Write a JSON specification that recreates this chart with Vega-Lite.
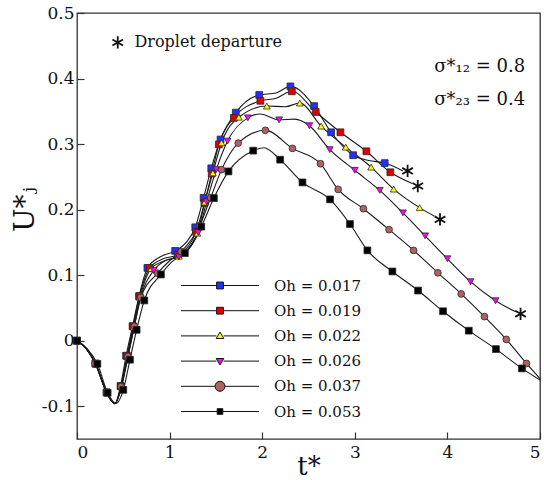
{
  "$schema": "https://vega.github.io/schema/vega-lite/v6.json",
  "width": 463,
  "height": 426,
  "autosize": {"type": "none"},
  "padding": {"left": 77, "top": 13, "right": 4, "bottom": 41},
  "background": "white",
  "config": {
    "font": "DejaVu Serif",
    "view": {"stroke": "#333", "strokeWidth": 1.3},
    "axis": {
      "labelFont": "DejaVu Serif",
      "titleFont": "DejaVu Serif",
      "labelColor": "#111",
      "titleColor": "#111",
      "titleFontWeight": "normal",
      "grid": false,
      "domain": false,
      "tickColor": "#333",
      "tickWidth": 1.2
    }
  },
  "datasets": {
    "curves": [
      {"s": "Oh = 0.017", "t": 0, "u": 0, "m": 1},
      {"s": "Oh = 0.017", "t": 0.1, "u": -0.012, "m": 0},
      {"s": "Oh = 0.017", "t": 0.2, "u": -0.035, "m": 1},
      {"s": "Oh = 0.017", "t": 0.32, "u": -0.079, "m": 1},
      {"s": "Oh = 0.017", "t": 0.41, "u": -0.096, "m": 0},
      {"s": "Oh = 0.017", "t": 0.47, "u": -0.069, "m": 1},
      {"s": "Oh = 0.017", "t": 0.53, "u": -0.023, "m": 1},
      {"s": "Oh = 0.017", "t": 0.6, "u": 0.022, "m": 1},
      {"s": "Oh = 0.017", "t": 0.67, "u": 0.068, "m": 1},
      {"s": "Oh = 0.017", "t": 0.76, "u": 0.111, "m": 1},
      {"s": "Oh = 0.017", "t": 0.9, "u": 0.128, "m": 0},
      {"s": "Oh = 0.017", "t": 1.06, "u": 0.137, "m": 1},
      {"s": "Oh = 0.017", "t": 1.18, "u": 0.15, "m": 0},
      {"s": "Oh = 0.017", "t": 1.277, "u": 0.173, "m": 1},
      {"s": "Oh = 0.017", "t": 1.367, "u": 0.218, "m": 1},
      {"s": "Oh = 0.017", "t": 1.45, "u": 0.263, "m": 1},
      {"s": "Oh = 0.017", "t": 1.55, "u": 0.307, "m": 1},
      {"s": "Oh = 0.017", "t": 1.715, "u": 0.348, "m": 1},
      {"s": "Oh = 0.017", "t": 1.968, "u": 0.375, "m": 1},
      {"s": "Oh = 0.017", "t": 2.15, "u": 0.378, "m": 0},
      {"s": "Oh = 0.017", "t": 2.305, "u": 0.388, "m": 1},
      {"s": "Oh = 0.017", "t": 2.561, "u": 0.358, "m": 1},
      {"s": "Oh = 0.017", "t": 2.744, "u": 0.318, "m": 1},
      {"s": "Oh = 0.017", "t": 2.982, "u": 0.283, "m": 1},
      {"s": "Oh = 0.017", "t": 3.15, "u": 0.275, "m": 0},
      {"s": "Oh = 0.017", "t": 3.323, "u": 0.271, "m": 1},
      {"s": "Oh = 0.017", "t": 3.52, "u": 0.259, "m": 0},

      {"s": "Oh = 0.019", "t": 0, "u": 0, "m": 1},
      {"s": "Oh = 0.019", "t": 0.1, "u": -0.012, "m": 0},
      {"s": "Oh = 0.019", "t": 0.2, "u": -0.035, "m": 1},
      {"s": "Oh = 0.019", "t": 0.32, "u": -0.079, "m": 1},
      {"s": "Oh = 0.019", "t": 0.41, "u": -0.096, "m": 0},
      {"s": "Oh = 0.019", "t": 0.475, "u": -0.07, "m": 1},
      {"s": "Oh = 0.019", "t": 0.54, "u": -0.023, "m": 1},
      {"s": "Oh = 0.019", "t": 0.605, "u": 0.022, "m": 1},
      {"s": "Oh = 0.019", "t": 0.675, "u": 0.068, "m": 1},
      {"s": "Oh = 0.019", "t": 0.785, "u": 0.111, "m": 1},
      {"s": "Oh = 0.019", "t": 0.93, "u": 0.125, "m": 0},
      {"s": "Oh = 0.019", "t": 1.09, "u": 0.131, "m": 1},
      {"s": "Oh = 0.019", "t": 1.286, "u": 0.166, "m": 1},
      {"s": "Oh = 0.019", "t": 1.376, "u": 0.21, "m": 1},
      {"s": "Oh = 0.019", "t": 1.455, "u": 0.255, "m": 1},
      {"s": "Oh = 0.019", "t": 1.532, "u": 0.2995, "m": 1},
      {"s": "Oh = 0.019", "t": 1.694, "u": 0.34, "m": 1},
      {"s": "Oh = 0.019", "t": 1.98, "u": 0.366, "m": 1},
      {"s": "Oh = 0.019", "t": 2.15, "u": 0.37, "m": 0},
      {"s": "Oh = 0.019", "t": 2.32, "u": 0.3805, "m": 1},
      {"s": "Oh = 0.019", "t": 2.578, "u": 0.349, "m": 1},
      {"s": "Oh = 0.019", "t": 2.845, "u": 0.318, "m": 1},
      {"s": "Oh = 0.019", "t": 3.125, "u": 0.289, "m": 1},
      {"s": "Oh = 0.019", "t": 3.384, "u": 0.257, "m": 1},
      {"s": "Oh = 0.019", "t": 3.62, "u": 0.24, "m": 0},

      {"s": "Oh = 0.022", "t": 0, "u": 0, "m": 1},
      {"s": "Oh = 0.022", "t": 0.1, "u": -0.012, "m": 0},
      {"s": "Oh = 0.022", "t": 0.2, "u": -0.035, "m": 1},
      {"s": "Oh = 0.022", "t": 0.32, "u": -0.079, "m": 1},
      {"s": "Oh = 0.022", "t": 0.41, "u": -0.096, "m": 0},
      {"s": "Oh = 0.022", "t": 0.48, "u": -0.07, "m": 1},
      {"s": "Oh = 0.022", "t": 0.545, "u": -0.024, "m": 1},
      {"s": "Oh = 0.022", "t": 0.61, "u": 0.021, "m": 1},
      {"s": "Oh = 0.022", "t": 0.68, "u": 0.066, "m": 1},
      {"s": "Oh = 0.022", "t": 0.8, "u": 0.11, "m": 1},
      {"s": "Oh = 0.022", "t": 0.95, "u": 0.122, "m": 0},
      {"s": "Oh = 0.022", "t": 1.1, "u": 0.129, "m": 1},
      {"s": "Oh = 0.022", "t": 1.3, "u": 0.164, "m": 1},
      {"s": "Oh = 0.022", "t": 1.38, "u": 0.2115, "m": 1},
      {"s": "Oh = 0.022", "t": 1.467, "u": 0.256, "m": 1},
      {"s": "Oh = 0.022", "t": 1.561, "u": 0.302, "m": 1},
      {"s": "Oh = 0.022", "t": 1.748, "u": 0.341, "m": 1},
      {"s": "Oh = 0.022", "t": 2.05, "u": 0.358, "m": 1},
      {"s": "Oh = 0.022", "t": 2.25, "u": 0.357, "m": 0},
      {"s": "Oh = 0.022", "t": 2.406, "u": 0.3626, "m": 1},
      {"s": "Oh = 0.022", "t": 2.636, "u": 0.3275, "m": 1},
      {"s": "Oh = 0.022", "t": 2.902, "u": 0.2954, "m": 1},
      {"s": "Oh = 0.022", "t": 3.176, "u": 0.2649, "m": 1},
      {"s": "Oh = 0.022", "t": 3.42, "u": 0.2313, "m": 1},
      {"s": "Oh = 0.022", "t": 3.7, "u": 0.203, "m": 1},
      {"s": "Oh = 0.022", "t": 3.86, "u": 0.19, "m": 0},

      {"s": "Oh = 0.026", "t": 0, "u": 0, "m": 1},
      {"s": "Oh = 0.026", "t": 0.1, "u": -0.012, "m": 0},
      {"s": "Oh = 0.026", "t": 0.2, "u": -0.035, "m": 1},
      {"s": "Oh = 0.026", "t": 0.32, "u": -0.079, "m": 1},
      {"s": "Oh = 0.026", "t": 0.41, "u": -0.096, "m": 0},
      {"s": "Oh = 0.026", "t": 0.48, "u": -0.071, "m": 1},
      {"s": "Oh = 0.026", "t": 0.55, "u": -0.025, "m": 1},
      {"s": "Oh = 0.026", "t": 0.615, "u": 0.02, "m": 1},
      {"s": "Oh = 0.026", "t": 0.685, "u": 0.065, "m": 1},
      {"s": "Oh = 0.026", "t": 0.827, "u": 0.107, "m": 1},
      {"s": "Oh = 0.026", "t": 0.95, "u": 0.122, "m": 0},
      {"s": "Oh = 0.026", "t": 1.1, "u": 0.128, "m": 1},
      {"s": "Oh = 0.026", "t": 1.31, "u": 0.165, "m": 1},
      {"s": "Oh = 0.026", "t": 1.4, "u": 0.212, "m": 1},
      {"s": "Oh = 0.026", "t": 1.504, "u": 0.261, "m": 1},
      {"s": "Oh = 0.026", "t": 1.626, "u": 0.3046, "m": 1},
      {"s": "Oh = 0.026", "t": 1.845, "u": 0.34, "m": 1},
      {"s": "Oh = 0.026", "t": 1.98, "u": 0.346, "m": 0},
      {"s": "Oh = 0.026", "t": 2.183, "u": 0.337, "m": 1},
      {"s": "Oh = 0.026", "t": 2.35, "u": 0.338, "m": 0},
      {"s": "Oh = 0.026", "t": 2.51, "u": 0.328, "m": 1},
      {"s": "Oh = 0.026", "t": 2.73, "u": 0.2915, "m": 1},
      {"s": "Oh = 0.026", "t": 3.0, "u": 0.26, "m": 1},
      {"s": "Oh = 0.026", "t": 3.27, "u": 0.2293, "m": 1},
      {"s": "Oh = 0.026", "t": 3.52, "u": 0.195, "m": 1},
      {"s": "Oh = 0.026", "t": 3.76, "u": 0.16, "m": 1},
      {"s": "Oh = 0.026", "t": 4.0, "u": 0.125, "m": 1},
      {"s": "Oh = 0.026", "t": 4.25, "u": 0.09, "m": 1},
      {"s": "Oh = 0.026", "t": 4.52, "u": 0.061, "m": 1},
      {"s": "Oh = 0.026", "t": 4.74, "u": 0.044, "m": 0},

      {"s": "Oh = 0.037", "t": 0, "u": 0, "m": 1},
      {"s": "Oh = 0.037", "t": 0.1, "u": -0.012, "m": 0},
      {"s": "Oh = 0.037", "t": 0.195, "u": -0.035, "m": 1},
      {"s": "Oh = 0.037", "t": 0.32, "u": -0.0786, "m": 1},
      {"s": "Oh = 0.037", "t": 0.41, "u": -0.096, "m": 0},
      {"s": "Oh = 0.037", "t": 0.475, "u": -0.07, "m": 1},
      {"s": "Oh = 0.037", "t": 0.55, "u": -0.024, "m": 1},
      {"s": "Oh = 0.037", "t": 0.62, "u": 0.022, "m": 1},
      {"s": "Oh = 0.037", "t": 0.69, "u": 0.066, "m": 1},
      {"s": "Oh = 0.037", "t": 0.871, "u": 0.103, "m": 1},
      {"s": "Oh = 0.037", "t": 1.0, "u": 0.122, "m": 0},
      {"s": "Oh = 0.037", "t": 1.126, "u": 0.136, "m": 1},
      {"s": "Oh = 0.037", "t": 1.324, "u": 0.1754, "m": 1},
      {"s": "Oh = 0.037", "t": 1.443, "u": 0.218, "m": 1},
      {"s": "Oh = 0.037", "t": 1.561, "u": 0.261, "m": 1},
      {"s": "Oh = 0.037", "t": 1.741, "u": 0.3015, "m": 1},
      {"s": "Oh = 0.037", "t": 2.034, "u": 0.321, "m": 1},
      {"s": "Oh = 0.037", "t": 2.327, "u": 0.2934, "m": 1},
      {"s": "Oh = 0.037", "t": 2.629, "u": 0.27, "m": 1},
      {"s": "Oh = 0.037", "t": 2.82, "u": 0.2308, "m": 1},
      {"s": "Oh = 0.037", "t": 3.093, "u": 0.2014, "m": 1},
      {"s": "Oh = 0.037", "t": 3.37, "u": 0.1695, "m": 1},
      {"s": "Oh = 0.037", "t": 3.635, "u": 0.1378, "m": 1},
      {"s": "Oh = 0.037", "t": 3.897, "u": 0.1036, "m": 1},
      {"s": "Oh = 0.037", "t": 4.149, "u": 0.0714, "m": 1},
      {"s": "Oh = 0.037", "t": 4.4, "u": 0.0367, "m": 1},
      {"s": "Oh = 0.037", "t": 4.636, "u": 0.002, "m": 1},
      {"s": "Oh = 0.037", "t": 4.854, "u": -0.0347, "m": 1},
      {"s": "Oh = 0.037", "t": 5.0, "u": -0.058, "m": 0},

      {"s": "Oh = 0.053", "t": 0, "u": 0, "m": 1},
      {"s": "Oh = 0.053", "t": 0.11, "u": -0.012, "m": 0},
      {"s": "Oh = 0.053", "t": 0.22, "u": -0.0353, "m": 1},
      {"s": "Oh = 0.053", "t": 0.331, "u": -0.0795, "m": 1},
      {"s": "Oh = 0.053", "t": 0.42, "u": -0.096, "m": 0},
      {"s": "Oh = 0.053", "t": 0.5, "u": -0.075, "m": 1},
      {"s": "Oh = 0.053", "t": 0.572, "u": -0.029, "m": 1},
      {"s": "Oh = 0.053", "t": 0.644, "u": 0.0166, "m": 1},
      {"s": "Oh = 0.053", "t": 0.727, "u": 0.0614, "m": 1},
      {"s": "Oh = 0.053", "t": 0.906, "u": 0.101, "m": 1},
      {"s": "Oh = 0.053", "t": 1.03, "u": 0.121, "m": 0},
      {"s": "Oh = 0.053", "t": 1.165, "u": 0.1336, "m": 1},
      {"s": "Oh = 0.053", "t": 1.342, "u": 0.174, "m": 1},
      {"s": "Oh = 0.053", "t": 1.478, "u": 0.2176, "m": 1},
      {"s": "Oh = 0.053", "t": 1.636, "u": 0.2583, "m": 1},
      {"s": "Oh = 0.053", "t": 1.903, "u": 0.29, "m": 1},
      {"s": "Oh = 0.053", "t": 2.02, "u": 0.2945, "m": 0},
      {"s": "Oh = 0.053", "t": 2.194, "u": 0.2762, "m": 1},
      {"s": "Oh = 0.053", "t": 2.435, "u": 0.2415, "m": 1},
      {"s": "Oh = 0.053", "t": 2.733, "u": 0.2156, "m": 1},
      {"s": "Oh = 0.053", "t": 2.948, "u": 0.178, "m": 1},
      {"s": "Oh = 0.053", "t": 3.136, "u": 0.1378, "m": 1},
      {"s": "Oh = 0.053", "t": 3.406, "u": 0.1056, "m": 1},
      {"s": "Oh = 0.053", "t": 3.683, "u": 0.0765, "m": 1},
      {"s": "Oh = 0.053", "t": 3.953, "u": 0.0449, "m": 1},
      {"s": "Oh = 0.053", "t": 4.231, "u": 0.0153, "m": 1},
      {"s": "Oh = 0.053", "t": 4.524, "u": -0.0128, "m": 1},
      {"s": "Oh = 0.053", "t": 4.805, "u": -0.0423, "m": 1},
      {"s": "Oh = 0.053", "t": 5.0, "u": -0.06, "m": 0}
    ],
    "departures": [
      {"t": 3.57, "u": 0.259},
      {"t": 3.68, "u": 0.236},
      {"t": 3.92, "u": 0.185},
      {"t": 4.79, "u": 0.041},
      {"t": 0.44, "u": 0.455}
    ],
    "notesLeft": [
      {"t": 0.62, "u": 0.455, "label": "Droplet departure"}
    ],
    "notesRight": [
      {"t": 4.84, "u": 0.418, "label": "σ*₁₂ = 0.8"},
      {"t": 4.84, "u": 0.368, "label": "σ*₂₃ = 0.4"}
    ]
  },
  "encoding": {
    "x": {
      "field": "t", "type": "quantitative",
      "scale": {"domain": [0, 5], "nice": false, "zero": false},
      "axis": {"values": [0, 1, 2, 3, 4, 5], "title": "t*", "tickSize": -7, "labelPadding": 12, "labelFontSize": 17, "titleFontSize": 26, "titlePadding": -7}
    },
    "y": {
      "field": "u", "type": "quantitative",
      "scale": {"domain": [-0.15, 0.5], "nice": false, "zero": false},
      "axis": {"values": [-0.1, 0, 0.1, 0.2, 0.3, 0.4, 0.5], "labelExpr": "datum.value < 0 ? '-' + format(-datum.value, '.1~f') : format(datum.value, '.1~f')", "title": "U*ⱼ", "tickSize": -7, "labelPadding": 10, "labelFontSize": 17, "titleFontSize": 28, "titlePadding": 2, "titleY": 196}
    }
  },
  "layer": [
    {
      "data": {"name": "curves"},
      "mark": {"type": "line", "interpolate": "monotone", "color": "#1a1a1a", "strokeWidth": 1.1},
      "encoding": {"detail": {"field": "s", "type": "nominal"}}
    },
    {
      "data": {"name": "curves"},
      "transform": [{"filter": "datum.m == 1"}],
      "mark": {"type": "point", "filled": true, "stroke": "#2a2a2a", "strokeWidth": 0.8, "opacity": 1},
      "encoding": {
        "fill": {"field": "s", "type": "nominal", "legend": null,
          "scale": {"domain": ["Oh = 0.017", "Oh = 0.019", "Oh = 0.022", "Oh = 0.026", "Oh = 0.037", "Oh = 0.053"],
                    "range": ["#2230ff", "#dd0000", "#ffff00", "#ff00ff", "#b06262", "#000000"]}},
        "shape": {"field": "s", "type": "nominal", "legend": null,
          "scale": {"domain": ["Oh = 0.017", "Oh = 0.019", "Oh = 0.022", "Oh = 0.026", "Oh = 0.037", "Oh = 0.053"],
                    "range": ["square", "square", "triangle-up", "triangle-down", "circle", "square"]}},
        "size": {"field": "s", "type": "ordinal", "legend": null,
          "scale": {"domain": ["Oh = 0.017", "Oh = 0.019", "Oh = 0.022", "Oh = 0.026", "Oh = 0.037", "Oh = 0.053"],
                    "range": [46, 46, 60, 60, 105, 40]}}
      }
    },
    {
      "data": {"name": "curves"},
      "transform": [{"filter": "datum.t > 99"}],
      "mark": {"type": "point", "filled": true, "stroke": "black", "strokeWidth": 1, "size": 64, "opacity": 1},
      "encoding": {
        "fill": {"field": "s", "type": "nominal",
          "scale": {"domain": ["Oh = 0.017", "Oh = 0.019", "Oh = 0.022", "Oh = 0.026", "Oh = 0.037", "Oh = 0.053"],
                    "range": ["#2230ff", "#dd0000", "#ffff00", "#ff00ff", "#b06262", "#000000"]},
          "legend": {"title": null, "orient": "none", "legendX": 135.5, "legendY": 265, "padding": 0, "rowPadding": 9.2, "labelOffset": 46.5, "labelFont": "DejaVu Serif", "labelFontSize": 15, "labelColor": "#111", "symbolSize": 64, "symbolStrokeColor": "black", "symbolStrokeWidth": 1, "symbolOpacity": 1,
            "encode": {"symbols": {"update": {"stroke": {"value": "#111"}, "strokeWidth": {"value": 1}, "opacity": {"value": 1}}}}}},
        "shape": {"field": "s", "type": "nominal",
          "scale": {"domain": ["Oh = 0.017", "Oh = 0.019", "Oh = 0.022", "Oh = 0.026", "Oh = 0.037", "Oh = 0.053"],
                    "range": [
                      "M-9.75,0L-0.85,0M0.85,0L9.75,0M-0.85,-0.85L0.85,-0.85L0.85,0.85L-0.85,0.85Z",
                      "M-9.75,0L-0.85,0M0.85,0L9.75,0M-0.85,-0.85L0.85,-0.85L0.85,0.85L-0.85,0.85Z",
                      "M-9.75,0L-0.9,0M0.9,0L9.75,0M0,-0.95L0.95,0.65L-0.95,0.65Z",
                      "M-9.75,0L-0.9,0M0.9,0L9.75,0M0,0.95L0.95,-0.65L-0.95,-0.65Z",
                      "M-9.75,0L-1.25,0M1.25,0L9.75,0M-1.25,0A1.25,1.25 0 1,0 1.25,0A1.25,1.25 0 1,0 -1.25,0Z",
                      "M-9.75,0L-0.7,0M0.7,0L9.75,0M-0.7,-0.7L0.7,-0.7L0.7,0.7L-0.7,0.7Z"
                    ]},
          "legend": {"title": null, "orient": "none", "legendX": 135.5, "legendY": 265, "padding": 0, "rowPadding": 9.2, "labelOffset": 46.5, "labelFont": "DejaVu Serif", "labelFontSize": 15, "labelColor": "#111", "symbolSize": 64, "symbolStrokeColor": "black", "symbolStrokeWidth": 1, "symbolOpacity": 1,
            "encode": {"symbols": {"update": {"stroke": {"value": "#111"}, "strokeWidth": {"value": 1}, "opacity": {"value": 1}}}}}}
      }
    },
    {
      "data": {"name": "departures"},
      "mark": {"type": "point", "shape": "M0,-1L0,1M-0.866,-0.5L0.866,0.5M-0.866,0.5L0.866,-0.5", "filled": false, "stroke": "#111", "strokeWidth": 1.8, "size": 150, "opacity": 1}
    },
    {
      "data": {"name": "notesLeft"},
      "mark": {"type": "text", "align": "left", "baseline": "middle", "font": "DejaVu Serif", "fontSize": 16, "color": "#111"},
      "encoding": {"text": {"field": "label"}}
    },
    {
      "data": {"name": "notesRight"},
      "mark": {"type": "text", "align": "right", "baseline": "middle", "font": "DejaVu Serif", "fontSize": 18, "color": "#111"},
      "encoding": {"text": {"field": "label"}}
    }
  ],
  "resolve": {"scale": {"fill": "independent", "shape": "independent", "size": "independent"}}
}
